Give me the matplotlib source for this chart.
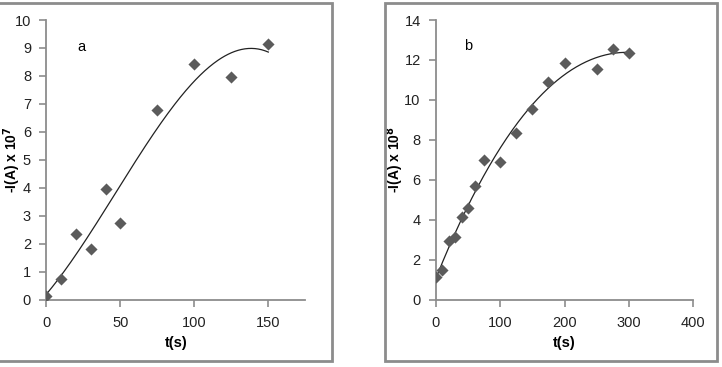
import numpy as np
import matplotlib
matplotlib.use("Agg")
import matplotlib.pyplot as plt
from matplotlib.patches import Rectangle

# Panel a: current vs time
t_a = [0, 10, 20, 30, 40, 50, 75, 100, 125, 150]
i_a = [0.13, 0.73, 2.35, 1.80, 3.95, 2.75, 6.77, 8.41, 7.97, 9.13]

# Panel b: current vs time
t_b = [0, 10, 20, 30, 40, 50, 60, 75, 100, 125, 150, 175, 200, 250, 275, 300]
i_b = [1.12, 1.46, 2.95, 3.13, 4.13, 4.6, 5.67, 6.98, 6.87, 8.33, 9.53, 10.89,
       11.86, 11.56, 12.56, 12.36]

plt.rcParams['font.family'] = ['Liberation Sans', 'DejaVu Sans']

fig = plt.figure(figsize=(7.22, 3.67), dpi=100)
W, H = 722, 367

# grey frames around each panel
for x0, x1 in [(-10, 331.5), (384.5, 717)]:
    fig.patches.append(Rectangle((x0 / W, 1 - 361 / H), (x1 - x0) / W, (361 - 3) / H,
                                 transform=fig.transFigure, fill=False,
                                 edgecolor='#8c8c8c', linewidth=2))


def panel(rect, t, y, xmax, xstep, ymax, ystep, letter, lpos, exp, ylab_x):
    ax = fig.add_axes(rect)
    coef = np.polyfit(t, y, 3)
    tt = np.linspace(min(t), max(t), 200)
    ax.plot(tt, np.polyval(coef, tt), color='#222222', linewidth=0.9)
    ax.scatter(t, y, marker='D', s=38, color='#5b5b5b', zorder=3, linewidths=0)
    ax.set_xlim(0, xmax)
    ax.set_ylim(0, ymax)
    ax.set_xticks(np.arange(0, xmax + 1, xstep))
    ax.set_yticks(np.arange(0, ymax + 1, ystep))
    for s in ['top', 'right']:
        ax.spines[s].set_visible(False)
    for s in ['left', 'bottom']:
        ax.spines[s].set_color('#8c8c8c')
        ax.spines[s].set_linewidth(1.3)
    ax.tick_params(axis='both', colors='#8c8c8c', labelcolor='#222222',
                   labelsize=10.5, length=5, width=1.2)
    ax.tick_params(axis='x', pad=7)
    ax.tick_params(axis='y', pad=6)
    ax.set_xlabel('t(s)', fontweight='bold', fontsize=10.5, labelpad=4)
    ax.set_ylabel(r'-I(A) x 10$^{\mathbf{%d}}$' % exp, fontweight='bold',
                  fontsize=10, va='center')
    ax.yaxis.set_label_coords(ylab_x, 0.5)
    ax.text(lpos[0], lpos[1], letter, fontsize=10.5, ha='center', va='center')
    return ax


panel([46.3 / W, 1 - 299.5 / H, 259 / W, 279.5 / H], t_a, i_a, 175, 50, 10, 1,
      'a', (24, 9.05), 7, (12 - 46.3) / 259)
panel([436 / W, 1 - 299.5 / H, 257 / W, 279.5 / H], t_b, i_b, 400, 100, 14, 2,
      'b', (50, 12.7), 8, (395 - 436) / 257)

fig.savefig('out.png', dpi=100)
